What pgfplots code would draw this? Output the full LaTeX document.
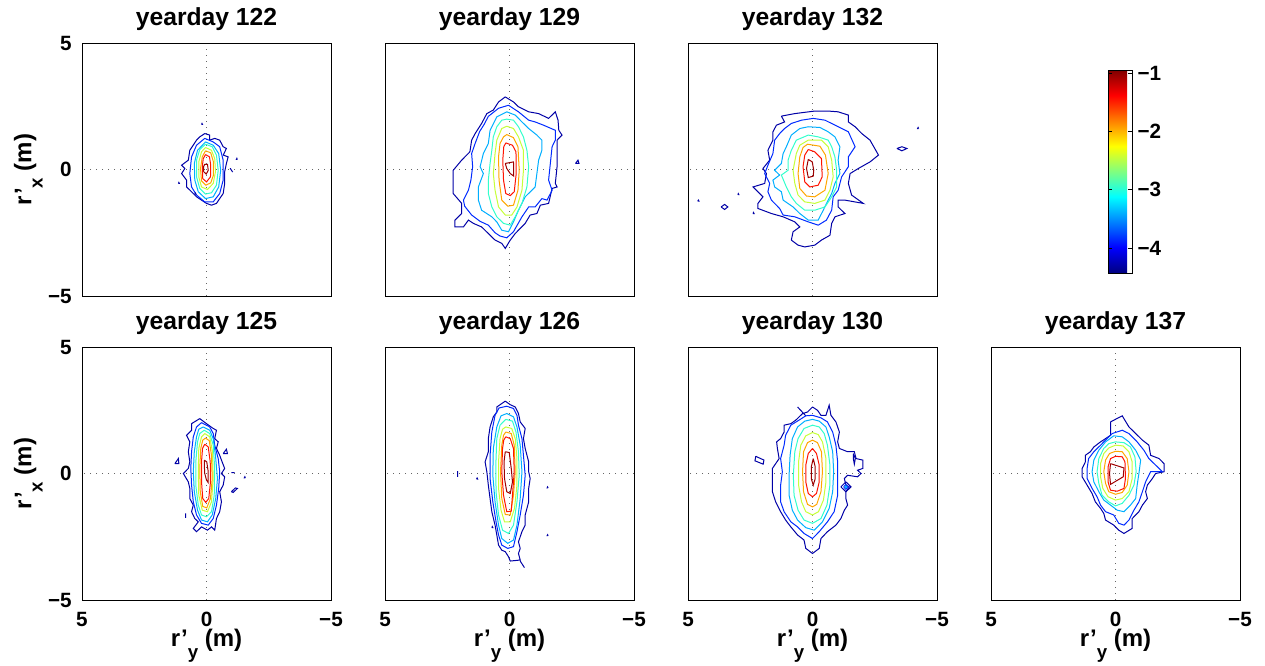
\documentclass[border=0pt]{standalone}
\usepackage{fontspec}
\setmainfont{Liberation Sans}
\usepackage{pgfplots}
\pgfplotsset{compat=1.18}

\newcommand\titlefont{\fontsize{18.5}{20}\selectfont\bfseries}
\newcommand\labelfont{\fontsize{18}{20}\selectfont\bfseries}
\newcommand\tickfont{\fontsize{15.5}{17}\selectfont\bfseries}
\newcommand\sub[1]{\raisebox{-8.5pt}{\fontsize{14}{14}\selectfont #1}}

% contour levels (log10 of the normalised density)
% L1=-4.30 L2=-3.85 L3=-3.40 L4=-2.95 L5=-2.45 L6=-1.95 L7=-1.45 L8=-1.05

\pgfplotsset{
  panel/.style={
    scale only axis, width=186.75pt, height=189.75pt,
    xmin=-5, xmax=5, ymin=-5, ymax=5, x dir=reverse,
    xtick={-5,0,5}, ytick={-5,0,5},
    xticklabels={}, yticklabels={},
    grid=major,
    major grid style={black!60, line width=0.5pt, dash pattern=on 0.6pt off 3.9pt},
    major tick length=0pt,
    axis line style={line width=0.7pt},
    colormap/jet, point meta min=-4.43, point meta max=-0.95,
    title style={font=\titlefont, at={(0.5,1)}, anchor=base, yshift=7.5pt, inner sep=0pt},
    tick label style={font=\tickfont, inner sep=0pt},
    xticklabel style={yshift=-9pt},
    yticklabel style={xshift=-7.5pt},
    xlabel style={font=\labelfont, at={(axis description cs:0.5,-0.115)}, anchor=north, inner sep=0pt},
    ylabel style={font=\labelfont, at={(axis description cs:-0.157,0.5)}, anchor=south, inner sep=0pt},
  },
  cont/.style={contour prepared={labels=false}, line width=0.75pt},
}

\begin{document}
\begin{tikzpicture}
\path[use as bounding box] (0,0) rectangle (948.75pt,-498.75pt);

% ---------------- yearday 122 ----------------
\begin{axis}[panel, at={(61.5pt,-32.25pt)}, anchor=north west,
  title={yearday 122}, ylabel={r’\sub{x} (m)}, yticklabels={−5,0,5}]
\addplot[cont] table[meta index=2] {
0.07 1.42 -4.3
-0.13 1.36 -4.3
-0.13 1.16 -4.3
-0.33 1.23 -4.3
-0.53 1.16 -4.3
-0.67 0.90 -4.3
-0.80 0.83 -4.3
-0.67 0.57 -4.3
-0.87 0.50 -4.3
-0.80 0.24 -4.3
-0.73 -0.09 -4.3
-0.73 -0.55 -4.3
-0.67 -0.95 -4.3
-0.53 -1.15 -4.3
-0.40 -1.34 -4.3
-0.20 -1.41 -4.3
0.00 -1.34 -4.3
0.20 -1.21 -4.3
0.40 -1.08 -4.3
0.60 -0.88 -4.3
0.80 -0.69 -4.3
0.80 -0.42 -4.3
1.00 -0.16 -4.3
0.87 0.04 -4.3
1.00 0.17 -4.3
0.73 0.37 -4.3
0.67 0.76 -4.3
0.40 1.16 -4.3
0.27 1.29 -4.3
0.07 1.42 -4.3

0.07 1.23 -3.85
-0.27 1.09 -3.85
-0.53 0.90 -3.85
-0.67 0.37 -3.85
-0.67 -0.42 -3.85
-0.53 -0.95 -3.85
-0.27 -1.28 -3.85
0.07 -1.28 -3.85
0.40 -1.01 -3.85
0.60 -0.69 -3.85
0.67 -0.16 -3.85
0.60 0.50 -3.85
0.40 0.96 -3.85
0.07 1.23 -3.85

0.04 1.09 -3.4
-0.27 0.96 -3.4
-0.49 0.63 -3.4
-0.57 -0.03 -3.4
-0.49 -0.69 -3.4
-0.27 -1.08 -3.4
0.04 -1.15 -3.4
0.33 -0.88 -3.4
0.47 -0.42 -3.4
0.49 0.24 -3.4
0.36 0.76 -3.4
0.04 1.09 -3.4

0.04 1.00 -2.95
-0.23 0.90 -2.95
-0.40 0.57 -2.95
-0.47 -0.03 -2.95
-0.40 -0.62 -2.95
-0.20 -0.92 -2.95
0.04 -0.97 -2.95
0.27 -0.75 -2.95
0.40 -0.29 -2.95
0.40 0.37 -2.95
0.27 0.79 -2.95
0.04 1.00 -2.95

0.04 0.87 -2.45
-0.20 0.76 -2.45
-0.33 0.43 -2.45
-0.36 -0.09 -2.45
-0.27 -0.55 -2.45
-0.04 -0.79 -2.45
0.20 -0.69 -2.45
0.31 -0.29 -2.45
0.31 0.30 -2.45
0.20 0.70 -2.45
0.04 0.87 -2.45

0.04 0.74 -1.95
-0.17 0.66 -1.95
-0.28 0.30 -1.95
-0.28 -0.22 -1.95
-0.17 -0.53 -1.95
0.03 -0.62 -1.95
0.20 -0.45 -1.95
0.24 0.04 -1.95
0.17 0.50 -1.95
0.04 0.74 -1.95

0.04 0.59 -1.45
-0.12 0.50 -1.45
-0.17 0.17 -1.45
-0.16 -0.29 -1.45
0.00 -0.49 -1.45
0.15 -0.36 -1.45
0.17 0.11 -1.45
0.13 0.43 -1.45
0.04 0.59 -1.45

0.07 0.21 -1.05
-0.04 0.20 -1.05
-0.07 -0.03 -1.05
0.01 -0.18 -1.05
0.11 -0.09 -1.05
0.12 0.11 -1.05
0.07 0.21 -1.05

0.20 1.78 -4.3
0.16 1.78 -4.3
0.18 1.82 -4.3
0.20 1.78 -4.3

-1.24 0.40 -4.3
-1.20 0.40 -4.3
-1.22 0.44 -4.3
-1.24 0.40 -4.3

-0.95 0.05 -4.3
-1.05 -0.10 -4.3

1.13 -0.55 -4.3
1.09 -0.55 -4.3
1.11 -0.51 -4.3
1.13 -0.55 -4.3

0.47 -0.97 -4.3
0.43 -0.97 -4.3
0.45 -0.93 -4.3
0.47 -0.97 -4.3
};
\end{axis}

% ---------------- yearday 129 ----------------
\begin{axis}[panel, at={(288.75pt,-32.25pt)}, anchor=north west,
  title={yearday 129}]
\addplot[cont] table[meta index=2] {
0.17 2.87 -4.3
-0.16 2.67 -4.3
-0.36 2.48 -4.3
-0.77 2.28 -4.3
-1.17 2.21 -4.3
-1.57 2.02 -4.3
-1.84 2.28 -4.3
-1.95 1.95 -4.3
-1.98 1.55 -4.3
-2.11 1.36 -4.3
-1.91 1.16 -4.3
-1.91 0.76 -4.3
-1.91 0.11 -4.3
-1.84 -0.55 -4.3
-1.91 -0.69 -4.3
-1.71 -0.75 -4.3
-1.57 -1.34 -4.3
-1.24 -1.41 -4.3
-1.10 -1.74 -4.3
-0.83 -1.80 -4.3
-0.63 -2.13 -4.3
-0.23 -2.53 -4.3
-0.03 -2.79 -4.3
0.17 -3.12 -4.3
0.31 -2.92 -4.3
0.58 -2.79 -4.3
0.85 -2.53 -4.3
1.12 -2.27 -4.3
1.45 -2.13 -4.3
1.65 -2.00 -4.3
1.85 -2.27 -4.3
2.19 -2.27 -4.3
2.19 -2.00 -4.3
1.92 -1.74 -4.3
1.92 -1.34 -4.3
2.26 -0.95 -4.3
2.26 -0.42 -4.3
2.26 -0.03 -4.3
1.92 0.37 -4.3
1.59 0.70 -4.3
1.52 1.16 -4.3
1.38 1.42 -4.3
1.12 1.82 -4.3
0.91 2.21 -4.3
0.65 2.35 -4.3
0.44 2.67 -4.3
0.17 2.87 -4.3

0.04 2.54 -3.85
-0.36 2.28 -3.85
-0.77 1.95 -3.85
-1.03 1.88 -3.85
-1.37 1.75 -3.85
-1.84 1.55 -3.85
-1.84 1.16 -3.85
-1.71 0.90 -3.85
-1.64 0.24 -3.85
-1.57 -0.42 -3.85
-1.71 -0.82 -3.85
-1.51 -1.21 -3.85
-1.30 -1.15 -3.85
-1.03 -1.48 -3.85
-0.77 -1.48 -3.85
-0.50 -1.87 -3.85
-0.16 -2.46 -3.85
0.11 -2.70 -3.85
0.38 -2.63 -3.85
0.58 -2.50 -3.85
0.85 -2.20 -3.85
1.18 -2.05 -3.85
1.52 -1.80 -3.85
1.80 -1.45 -3.85
1.85 -1.21 -3.85
1.65 -0.82 -3.85
1.55 -0.42 -3.85
1.48 0.11 -3.85
1.52 0.63 -3.85
1.38 1.03 -3.85
1.20 1.50 -3.85
1.02 1.78 -3.85
0.85 2.10 -3.85
0.44 2.42 -3.85
0.04 2.54 -3.85

0.11 2.28 -3.4
-0.23 2.15 -3.4
-0.50 1.88 -3.4
-0.77 1.62 -3.4
-1.10 1.36 -3.4
-1.30 1.16 -3.4
-1.30 0.76 -3.4
-1.17 0.37 -3.4
-1.10 -0.16 -3.4
-1.03 -0.69 -3.4
-0.63 -1.08 -3.4
-0.36 -1.61 -3.4
-0.16 -2.07 -3.4
0.04 -2.46 -3.4
0.31 -2.40 -3.4
0.51 -2.07 -3.4
0.71 -1.87 -3.4
1.12 -1.61 -3.4
1.25 -1.21 -3.4
1.25 -0.69 -3.4
1.05 -0.16 -3.4
1.18 0.11 -3.4
1.05 0.63 -3.4
0.85 1.03 -3.4
0.78 1.55 -3.4
0.51 2.08 -3.4
0.11 2.28 -3.4

0.11 1.99 -2.95
-0.16 1.95 -2.95
-0.36 1.69 -2.95
-0.56 1.29 -2.95
-0.70 0.76 -2.95
-0.77 0.11 -2.95
-0.70 -0.69 -2.95
-0.50 -1.34 -2.95
-0.23 -1.87 -2.95
-0.03 -2.20 -2.95
0.24 -2.13 -2.95
0.51 -1.87 -2.95
0.71 -1.48 -2.95
0.85 -0.95 -2.95
0.85 -0.42 -2.95
0.78 0.24 -2.95
0.71 0.76 -2.95
0.65 1.29 -2.95
0.51 1.69 -2.95
0.31 1.95 -2.95
0.11 1.99 -2.95

0.11 1.71 -2.45
-0.16 1.62 -2.45
-0.36 1.29 -2.45
-0.56 0.76 -2.45
-0.56 -0.03 -2.45
-0.50 -0.82 -2.45
-0.30 -1.48 -2.45
-0.09 -1.80 -2.45
0.17 -1.80 -2.45
0.44 -1.48 -2.45
0.58 -0.82 -2.45
0.65 -0.16 -2.45
0.58 0.63 -2.45
0.51 1.16 -2.45
0.31 1.62 -2.45
0.11 1.71 -2.45

0.11 1.38 -1.95
-0.16 1.26 -1.95
-0.34 0.90 -1.95
-0.39 -0.03 -1.95
-0.34 -0.82 -1.95
-0.16 -1.41 -1.95
0.07 -1.45 -1.95
0.31 -1.21 -1.95
0.42 -0.42 -1.95
0.44 0.50 -1.95
0.38 1.03 -1.95
0.24 1.29 -1.95
0.11 1.38 -1.95

0.15 1.05 -1.45
-0.12 0.96 -1.45
-0.26 0.70 -1.45
-0.27 -0.16 -1.45
-0.19 -0.88 -1.45
-0.03 -1.03 -1.45
0.15 -0.95 -1.45
0.24 -0.42 -1.45
0.27 0.37 -1.45
0.23 0.90 -1.45
0.15 1.05 -1.45

0.17 0.24 -1.05
-0.16 0.30 -1.05
-0.17 -0.26 -1.05
-0.03 -0.16 -1.05
0.11 0.04 -1.05
0.17 0.24 -1.05

-2.65 0.24 -4.3
-2.79 0.24 -4.3
-2.75 0.37 -4.3
-2.65 0.24 -4.3
};
\end{axis}

% ---------------- yearday 132 (with colour bar) ----------------
\begin{axis}[panel, at={(516pt,-32.25pt)}, anchor=north west,
  title={yearday 132},
  colorbar,
  colorbar style={
    at={(parent axis.north east)}, anchor=north west,
    xshift=119.75pt, yshift=-20.25pt,
    scale only axis, width=18pt, height=152.25pt,
    ytick={-4,-3,-2,-1}, yticklabels={−4,−3,−2,−1},
    yticklabel style={font=\tickfont, inner sep=0pt, xshift=4pt},
    major tick length=3pt, tick align=inside,
    tick style={black, line width=0.5pt},
    axis line style={line width=0.6pt},
  }]
\addplot[cont] table[meta index=2] {
1.25 2.11 -4.3
0.71 2.21 -4.3
-0.09 2.31 -4.3
-0.63 2.31 -4.3
-1.03 2.28 -4.3
-1.44 2.15 -4.3
-1.44 1.88 -4.3
-1.71 1.69 -4.3
-1.98 1.42 -4.3
-2.31 1.16 -4.3
-2.65 0.57 -4.3
-2.31 0.30 -4.3
-1.84 0.04 -4.3
-1.51 -0.16 -4.3
-1.44 -0.55 -4.3
-1.57 -1.01 -4.3
-2.04 -1.34 -4.3
-1.30 -1.21 -4.3
-1.03 -1.21 -4.3
-1.03 -1.48 -4.3
-1.30 -1.74 -4.3
-0.90 -1.87 -4.3
-0.77 -2.13 -4.3
-0.70 -2.60 -4.3
-0.36 -2.79 -4.3
-0.09 -2.99 -4.3
0.31 -3.06 -4.3
0.58 -2.99 -4.3
0.85 -2.79 -4.3
0.78 -2.46 -4.3
0.51 -2.27 -4.3
0.71 -2.07 -4.3
1.18 -1.87 -4.3
1.65 -1.74 -4.3
2.19 -1.54 -4.3
2.19 -1.34 -4.3
1.99 -1.08 -4.3
2.39 -0.69 -4.3
1.92 -0.55 -4.3
1.85 -0.16 -4.3
1.99 0.04 -4.3
1.72 0.37 -4.3
1.79 0.76 -4.3
1.59 1.16 -4.3
1.59 1.49 -4.3
1.45 1.75 -4.3
1.12 1.88 -4.3
1.25 2.11 -4.3

-0.03 2.02 -3.85
-0.50 1.95 -3.85
-1.03 1.69 -3.85
-1.44 1.49 -3.85
-1.71 0.90 -3.85
-1.44 0.50 -3.85
-1.44 0.11 -3.85
-1.17 -0.29 -3.85
-1.03 -0.82 -3.85
-0.83 -1.08 -3.85
-0.77 -1.61 -3.85
-0.56 -2.00 -3.85
-0.23 -2.20 -3.85
0.17 -2.07 -3.85
0.71 -1.87 -3.85
1.18 -1.80 -3.85
1.32 -1.54 -3.85
1.65 -1.21 -3.85
1.79 -0.88 -3.85
1.72 -0.55 -3.85
1.92 -0.16 -3.85
1.79 0.17 -3.85
1.59 0.63 -3.85
1.52 1.16 -3.85
1.32 1.42 -3.85
1.12 1.62 -3.85
0.85 1.82 -3.85
0.44 1.95 -3.85
-0.03 2.02 -3.85

0.17 1.69 -3.4
-0.30 1.66 -3.4
-0.63 1.49 -3.4
-0.90 1.29 -3.4
-1.10 0.90 -3.4
-1.03 0.37 -3.4
-1.10 -0.16 -3.4
-0.90 -0.55 -3.4
-0.77 -0.95 -3.4
-0.63 -1.21 -3.4
-0.43 -1.61 -3.4
-0.23 -2.00 -3.4
0.17 -2.00 -3.4
0.51 -1.74 -3.4
0.78 -1.48 -3.4
1.18 -1.21 -3.4
1.25 -0.88 -3.4
1.52 -0.69 -3.4
1.59 -0.42 -3.4
1.32 -0.22 -3.4
1.52 -0.03 -3.4
1.25 0.24 -3.4
1.18 0.63 -3.4
1.05 0.90 -3.4
0.85 1.36 -3.4
0.51 1.62 -3.4
0.17 1.69 -3.4

0.17 1.36 -2.95
-0.23 1.29 -2.95
-0.63 1.16 -2.95
-0.77 0.90 -2.95
-0.90 0.50 -2.95
-0.97 -0.03 -2.95
-0.97 -0.69 -2.95
-0.77 -1.08 -2.95
-0.50 -1.48 -2.95
-0.09 -1.61 -2.95
0.31 -1.61 -2.95
0.65 -1.34 -2.95
0.85 -1.08 -2.95
1.05 -0.69 -2.95
1.25 -0.22 -2.95
0.98 -0.03 -2.95
0.98 0.37 -2.95
0.85 0.76 -2.95
0.65 1.16 -2.95
0.17 1.36 -2.95

0.17 1.16 -2.45
-0.36 1.16 -2.45
-0.63 0.90 -2.45
-0.77 0.37 -2.45
-0.83 -0.29 -2.45
-0.70 -0.82 -2.45
-0.50 -1.21 -2.45
-0.09 -1.34 -2.45
0.31 -1.28 -2.45
0.58 -1.01 -2.45
0.71 -0.55 -2.45
0.78 -0.03 -2.45
0.65 0.63 -2.45
0.51 0.96 -2.45
0.17 1.16 -2.45

0.20 1.00 -1.95
-0.30 0.92 -1.95
-0.52 0.57 -1.95
-0.63 -0.16 -1.95
-0.50 -0.82 -1.95
-0.09 -1.08 -1.95
0.24 -1.05 -1.95
0.51 -0.75 -1.95
0.58 -0.16 -1.95
0.51 0.50 -1.95
0.38 0.87 -1.95
0.20 1.00 -1.95

0.17 0.79 -1.45
-0.09 0.70 -1.45
-0.36 0.43 -1.45
-0.39 -0.29 -1.45
-0.23 -0.62 -1.45
0.11 -0.69 -1.45
0.31 -0.49 -1.45
0.38 0.11 -1.45
0.31 0.57 -1.45
0.17 0.79 -1.45

0.17 0.40 -1.05
0.01 0.30 -1.05
-0.05 -0.03 -1.05
-0.03 -0.26 -1.05
0.17 -0.32 -1.05
0.24 0.04 -1.05
0.17 0.40 -1.05

3.67 -1.48 -4.3
3.53 -1.38 -4.3
3.40 -1.48 -4.3
3.53 -1.58 -4.3
3.67 -1.48 -4.3

4.61 -1.25 -4.3
4.56 -1.25 -4.3
4.58 -1.21 -4.3
4.61 -1.25 -4.3

3.00 -0.99 -4.3
2.96 -0.99 -4.3
2.98 -0.95 -4.3
3.00 -0.99 -4.3

2.39 -1.74 -4.3
2.35 -1.74 -4.3
2.37 -1.70 -4.3
2.39 -1.74 -4.3

-4.26 1.62 -4.3
-4.22 1.62 -4.3
-4.24 1.66 -4.3
-4.26 1.62 -4.3

-3.39 0.83 -4.3
-3.59 0.90 -4.3
-3.79 0.83 -4.3
-3.59 0.74 -4.3
-3.39 0.83 -4.3
};
\end{axis}

% ---------------- yearday 125 ----------------
\begin{axis}[panel, at={(61.5pt,-260.25pt)}, anchor=north west,
  title={yearday 125}, ylabel={r’\sub{x} (m)}, xlabel={r’\sub{y} (m)},
  yticklabels={−5,0,5}, xticklabels={−5,0,5}]
\addplot[cont] table[meta index=2] {
0.27 2.17 -4.3
0.00 1.97 -4.3
-0.27 1.78 -4.3
-0.40 1.71 -4.3
-0.33 1.38 -4.3
-0.47 1.25 -4.3
-0.40 0.99 -4.3
-0.53 0.72 -4.3
-0.60 0.53 -4.3
-0.73 0.20 -4.3
-0.60 0.00 -4.3
-0.73 -0.13 -4.3
-0.67 -0.46 -4.3
-0.53 -0.72 -4.3
-0.60 -1.12 -4.3
-0.53 -1.51 -4.3
-0.40 -1.78 -4.3
-0.33 -2.24 -4.3
-0.20 -2.11 -4.3
-0.04 -2.24 -4.3
0.20 -2.11 -4.3
0.40 -2.30 -4.3
0.53 -2.17 -4.3
0.33 -1.91 -4.3
0.47 -1.78 -4.3
0.60 -1.51 -4.3
0.53 -1.25 -4.3
0.67 -0.99 -4.3
0.67 -0.59 -4.3
0.73 -0.33 -4.3
0.93 0.00 -4.3
0.73 0.20 -4.3
0.67 0.46 -4.3
0.73 0.86 -4.3
0.67 1.25 -4.3
0.80 1.51 -4.3
0.60 1.71 -4.3
0.60 1.97 -4.3
0.27 2.17 -4.3

0.20 2.01 -3.85
-0.13 1.84 -3.85
-0.27 1.58 -3.85
-0.33 1.12 -3.85
-0.47 0.59 -3.85
-0.53 0.07 -3.85
-0.49 -0.59 -3.85
-0.40 -1.25 -3.85
-0.27 -1.78 -3.85
-0.07 -2.04 -3.85
0.20 -1.97 -3.85
0.40 -1.64 -3.85
0.53 -1.12 -3.85
0.60 -0.46 -3.85
0.63 0.20 -3.85
0.60 0.86 -3.85
0.53 1.45 -3.85
0.40 1.84 -3.85
0.20 2.01 -3.85

0.13 1.84 -3.4
-0.13 1.71 -3.4
-0.27 1.38 -3.4
-0.36 0.72 -3.4
-0.44 -0.20 -3.4
-0.37 -0.99 -3.4
-0.23 -1.64 -3.4
-0.04 -1.91 -3.4
0.20 -1.84 -3.4
0.36 -1.45 -3.4
0.49 -0.72 -3.4
0.53 0.07 -3.4
0.49 0.86 -3.4
0.40 1.45 -3.4
0.31 1.75 -3.4
0.13 1.84 -3.4

0.09 1.71 -2.95
-0.13 1.58 -2.95
-0.27 1.12 -2.95
-0.33 0.20 -2.95
-0.31 -0.86 -2.95
-0.20 -1.51 -2.95
0.00 -1.71 -2.95
0.20 -1.64 -2.95
0.33 -1.25 -2.95
0.43 -0.46 -2.95
0.43 0.46 -2.95
0.36 1.25 -2.95
0.27 1.58 -2.95
0.09 1.71 -2.95

0.07 1.58 -2.45
-0.13 1.45 -2.45
-0.24 0.86 -2.45
-0.27 -0.20 -2.45
-0.20 -1.12 -2.45
-0.04 -1.51 -2.45
0.17 -1.45 -2.45
0.31 -0.86 -2.45
0.33 0.07 -2.45
0.31 0.99 -2.45
0.20 1.45 -2.45
0.07 1.58 -2.45

0.04 1.40 -1.95
-0.11 1.30 -1.95
-0.20 0.72 -1.95
-0.23 -0.20 -1.95
-0.16 -0.99 -1.95
-0.01 -1.36 -1.95
0.15 -1.30 -1.95
0.25 -0.72 -1.95
0.27 0.20 -1.95
0.23 0.99 -1.95
0.15 1.32 -1.95
0.04 1.40 -1.95

0.07 1.16 -1.45
-0.07 1.05 -1.45
-0.15 0.46 -1.45
-0.16 -0.33 -1.45
-0.09 -0.99 -1.45
0.03 -1.14 -1.45
0.15 -0.99 -1.45
0.20 -0.33 -1.45
0.20 0.46 -1.45
0.16 0.99 -1.45
0.07 1.16 -1.45

0.09 0.53 -1.05
-0.01 0.46 -1.05
-0.07 0.07 -1.05
-0.07 -0.36 -1.05
0.00 -0.26 -1.05
0.07 0.00 -1.05
0.09 0.33 -1.05
0.09 0.53 -1.05

1.27 0.39 -4.3
1.13 0.59 -4.3
1.11 0.39 -4.3
1.27 0.39 -4.3

-0.67 0.79 -4.3
-0.80 0.96 -4.3
-0.84 0.79 -4.3
-0.67 0.79 -4.3

-1.00 0.03 -4.3
-1.13 0.03 -4.3

-1.00 -0.72 -4.3
-1.16 -0.57 -4.3
-1.24 -0.59 -4.3
-1.07 -0.75 -4.3
-1.00 -0.72 -4.3

0.84 -1.58 -4.3
0.84 -1.75 -4.3

-1.56 -0.17 -4.3
-1.52 -0.17 -4.3
-1.54 -0.13 -4.3
-1.56 -0.17 -4.3
};
\end{axis}

% ---------------- yearday 126 ----------------
\begin{axis}[panel, at={(288.75pt,-260.25pt)}, anchor=north west,
  title={yearday 126}, xlabel={r’\sub{y} (m)}, xticklabels={−5,0,5}]
\addplot[cont] table[meta index=2] {
0.17 2.86 -4.3
-0.03 2.72 -4.3
-0.23 2.63 -4.3
-0.36 2.37 -4.3
-0.43 2.04 -4.3
-0.63 1.78 -4.3
-0.56 1.38 -4.3
-0.63 0.99 -4.3
-0.77 0.46 -4.3
-0.77 0.07 -4.3
-0.83 -0.20 -4.3
-0.77 -0.59 -4.3
-0.77 -1.12 -4.3
-0.63 -1.64 -4.3
-0.63 -2.04 -4.3
-0.50 -2.30 -4.3
-0.36 -2.70 -4.3
-0.43 -2.96 -4.3
-0.36 -3.16 -4.3
-0.43 -3.42 -4.3
-0.03 -3.46 -4.3
0.04 -3.29 -4.3
0.17 -3.09 -4.3
0.31 -3.03 -4.3
0.44 -2.83 -4.3
0.51 -2.43 -4.3
0.58 -2.04 -4.3
0.71 -1.51 -4.3
0.78 -0.99 -4.3
0.85 -0.46 -4.3
0.91 0.07 -4.3
0.98 0.46 -4.3
0.85 0.86 -4.3
0.85 1.38 -4.3
0.78 1.84 -4.3
0.65 2.24 -4.3
0.51 2.43 -4.3
0.51 2.63 -4.3
0.17 2.86 -4.3

-0.43 -3.46 -4.3
-0.60 -3.72 -4.3

0.11 2.66 -3.85
-0.16 2.57 -3.85
-0.30 2.30 -3.85
-0.36 1.91 -3.85
-0.50 1.38 -3.85
-0.56 0.72 -3.85
-0.63 -0.07 -3.85
-0.56 -0.86 -3.85
-0.43 -1.64 -3.85
-0.30 -2.30 -3.85
-0.16 -2.89 -3.85
0.07 -2.96 -3.85
0.31 -2.83 -3.85
0.44 -2.43 -3.85
0.54 -1.91 -3.85
0.67 -1.12 -3.85
0.78 -0.20 -3.85
0.78 0.72 -3.85
0.71 1.64 -3.85
0.58 2.30 -3.85
0.42 2.59 -3.85
0.11 2.66 -3.85

0.11 2.37 -3.4
-0.16 2.24 -3.4
-0.30 1.84 -3.4
-0.43 1.12 -3.4
-0.50 0.07 -3.4
-0.43 -0.99 -3.4
-0.30 -2.04 -3.4
-0.16 -2.63 -3.4
0.07 -2.76 -3.4
0.31 -2.57 -3.4
0.44 -2.04 -3.4
0.58 -1.12 -3.4
0.67 -0.07 -3.4
0.65 0.99 -3.4
0.51 1.84 -3.4
0.34 2.28 -3.4
0.11 2.37 -3.4

0.15 2.14 -2.95
-0.12 2.07 -2.95
-0.26 1.64 -2.95
-0.36 0.86 -2.95
-0.39 -0.07 -2.95
-0.30 -1.12 -2.95
-0.16 -2.04 -2.95
0.04 -2.37 -2.95
0.28 -2.24 -2.95
0.44 -1.64 -2.95
0.54 -0.72 -2.95
0.55 0.33 -2.95
0.51 1.38 -2.95
0.38 1.91 -2.95
0.15 2.14 -2.95

0.15 1.84 -2.45
-0.09 1.78 -2.45
-0.23 1.38 -2.45
-0.30 0.59 -2.45
-0.30 -0.46 -2.45
-0.20 -1.38 -2.45
-0.03 -1.91 -2.45
0.20 -1.91 -2.45
0.34 -1.45 -2.45
0.44 -0.59 -2.45
0.44 0.46 -2.45
0.38 1.38 -2.45
0.28 1.75 -2.45
0.15 1.84 -2.45

0.15 1.64 -1.95
-0.07 1.58 -1.95
-0.19 1.12 -1.95
-0.23 0.07 -1.95
-0.16 -0.86 -1.95
-0.03 -1.64 -1.95
0.17 -1.62 -1.95
0.31 -0.99 -1.95
0.36 0.07 -1.95
0.31 1.12 -1.95
0.24 1.51 -1.95
0.15 1.64 -1.95

0.15 1.45 -1.45
-0.03 1.38 -1.45
-0.16 0.99 -1.45
-0.19 0.07 -1.45
-0.13 -0.72 -1.45
-0.07 -1.49 -1.45
0.11 -1.51 -1.45
0.24 -0.86 -1.45
0.31 0.07 -1.45
0.28 0.99 -1.45
0.23 1.32 -1.45
0.15 1.45 -1.45

0.17 0.86 -1.05
0.01 0.83 -1.05
-0.07 0.20 -1.05
-0.12 -0.33 -1.05
-0.03 -0.79 -1.05
0.11 -0.72 -1.05
0.20 -0.20 -1.05
0.22 0.46 -1.05
0.17 0.86 -1.05

2.08 0.09 -4.3
2.08 -0.13 -4.3

1.32 -0.22 -4.3
1.28 -0.22 -4.3
1.30 -0.18 -4.3
1.32 -0.22 -4.3

0.71 -2.14 -4.3
0.67 -2.14 -4.3
0.69 -2.10 -4.3
0.71 -2.14 -4.3

-1.55 -0.57 -4.3
-1.51 -0.57 -4.3
-1.53 -0.53 -4.3
-1.55 -0.57 -4.3

-1.55 -2.46 -4.3
-1.51 -2.46 -4.3
-1.53 -2.42 -4.3
-1.55 -2.46 -4.3
};
\end{axis}

% ---------------- yearday 130 ----------------
\begin{axis}[panel, at={(516pt,-260.25pt)}, anchor=north west,
  title={yearday 130}, xlabel={r’\sub{y} (m)}, xticklabels={−5,0,5}]
\addplot[cont] table[meta index=2] {
0.00 2.63 -4.3
-0.20 2.50 -4.3
-0.34 2.30 -4.3
-0.54 2.30 -4.3
-0.67 2.70 -4.3
-0.74 2.30 -4.3
-0.94 2.04 -4.3
-1.08 1.64 -4.3
-1.01 1.25 -4.3
-1.08 0.99 -4.3
-1.41 0.86 -4.3
-1.68 0.86 -4.3
-1.75 0.59 -4.3
-2.02 0.53 -4.3
-2.02 0.20 -4.3
-1.81 0.13 -4.3
-1.95 0.00 -4.3
-1.81 -0.13 -4.3
-1.41 -0.07 -4.3
-1.28 -0.20 -4.3
-1.34 -0.46 -4.3
-1.48 -0.53 -4.3
-1.34 -0.72 -4.3
-1.34 -0.99 -4.3
-1.41 -1.25 -4.3
-1.28 -1.45 -4.3
-1.14 -1.78 -4.3
-0.94 -2.04 -4.3
-0.60 -2.30 -4.3
-0.34 -2.57 -4.3
-0.27 -2.96 -4.3
0.00 -3.16 -4.3
0.27 -2.96 -4.3
0.34 -2.63 -4.3
0.60 -2.43 -4.3
0.87 -2.11 -4.3
1.08 -1.84 -4.3
1.28 -1.51 -4.3
1.48 -1.12 -4.3
1.61 -0.72 -4.3
1.61 -0.20 -4.3
1.61 0.20 -4.3
1.34 0.59 -4.3
1.41 0.99 -4.3
1.44 1.25 -4.3
1.28 1.38 -4.3
1.14 1.64 -4.3
1.14 1.91 -4.3
0.87 1.97 -4.3
0.67 2.11 -4.3
0.40 2.37 -4.3
0.20 2.43 -4.3
0.00 2.63 -4.3

0.60 2.63 -4.3
0.27 2.28 -4.3

0.00 2.30 -3.85
-0.34 2.20 -3.85
-0.60 2.04 -3.85
-0.81 1.64 -3.85
-0.94 1.12 -3.85
-1.01 0.46 -3.85
-1.01 -0.20 -3.85
-1.01 -0.86 -3.85
-0.87 -1.51 -3.85
-0.60 -1.91 -3.85
-0.27 -2.30 -3.85
0.00 -2.57 -3.85
0.34 -2.37 -3.85
0.60 -2.11 -3.85
0.87 -1.91 -3.85
1.14 -1.51 -3.85
1.28 -1.12 -3.85
1.28 -0.46 -3.85
1.21 0.07 -3.85
1.28 0.59 -3.85
1.14 1.12 -3.85
1.08 1.51 -3.85
0.87 1.91 -3.85
0.54 2.11 -3.85
0.27 2.28 -3.85
0.00 2.30 -3.85

0.00 2.14 -3.4
-0.27 2.07 -3.4
-0.54 1.84 -3.4
-0.67 1.45 -3.4
-0.81 0.86 -3.4
-0.85 0.07 -3.4
-0.81 -0.72 -3.4
-0.67 -1.38 -3.4
-0.40 -1.91 -3.4
-0.07 -2.24 -3.4
0.27 -2.14 -3.4
0.60 -1.84 -3.4
0.81 -1.45 -3.4
0.94 -0.86 -3.4
0.94 -0.07 -3.4
0.90 0.72 -3.4
0.81 1.38 -3.4
0.60 1.84 -3.4
0.31 2.07 -3.4
0.00 2.14 -3.4

0.00 1.91 -2.95
-0.27 1.84 -2.95
-0.47 1.58 -2.95
-0.60 1.12 -2.95
-0.70 0.33 -2.95
-0.70 -0.46 -2.95
-0.58 -1.25 -2.95
-0.34 -1.78 -2.95
0.00 -1.97 -2.95
0.34 -1.84 -2.95
0.58 -1.45 -2.95
0.74 -0.86 -2.95
0.77 -0.07 -2.95
0.71 0.86 -2.95
0.58 1.38 -2.95
0.34 1.78 -2.95
0.00 1.91 -2.95

0.00 1.62 -2.45
-0.23 1.54 -2.45
-0.40 1.25 -2.45
-0.54 0.59 -2.45
-0.54 -0.33 -2.45
-0.44 -1.05 -2.45
-0.24 -1.51 -2.45
0.00 -1.64 -2.45
0.27 -1.51 -2.45
0.44 -1.12 -2.45
0.56 -0.46 -2.45
0.56 0.46 -2.45
0.47 1.12 -2.45
0.27 1.49 -2.45
0.00 1.62 -2.45

0.00 1.32 -1.95
-0.20 1.22 -1.95
-0.36 0.86 -1.95
-0.40 0.07 -1.95
-0.34 -0.72 -1.95
-0.17 -1.22 -1.95
0.00 -1.32 -1.95
0.20 -1.22 -1.95
0.36 -0.72 -1.95
0.40 0.07 -1.95
0.36 0.86 -1.95
0.20 1.22 -1.95
0.00 1.32 -1.95

0.00 0.99 -1.45
-0.16 0.79 -1.45
-0.27 0.33 -1.45
-0.27 -0.33 -1.45
-0.16 -0.79 -1.45
0.00 -0.92 -1.45
0.17 -0.79 -1.45
0.27 -0.33 -1.45
0.27 0.33 -1.45
0.17 0.79 -1.45
0.00 0.99 -1.45

-0.03 0.59 -1.05
-0.11 0.26 -1.05
-0.11 -0.20 -1.05
-0.03 -0.46 -1.05
0.05 -0.20 -1.05
0.05 0.26 -1.05
-0.03 0.59 -1.05

2.28 0.68 -4.3
1.95 0.53 -4.3
1.98 0.37 -4.3
2.31 0.50 -4.3
2.28 0.68 -4.3

-1.14 -0.53 -4.3
-1.34 -0.33 -4.3
-1.55 -0.53 -4.3
-1.34 -0.72 -4.3
-1.14 -0.53 -4.3

-1.25 -0.53 -3.85
-1.34 -0.43 -3.85
-1.44 -0.53 -3.85
-1.34 -0.62 -3.85
-1.25 -0.53 -3.85

-1.30 -0.53 -3.4
-1.34 -0.49 -3.4
-1.38 -0.53 -3.4
-1.34 -0.57 -3.4
-1.30 -0.53 -3.4

-1.64 0.79 -4.3
-1.72 0.59 -4.3
-1.68 0.37 -4.3
-1.64 0.59 -4.3
-1.64 0.79 -4.3
};
\end{axis}

% ---------------- yearday 137 ----------------
\begin{axis}[panel, at={(743.25pt,-260.25pt)}, anchor=north west,
  title={yearday 137}, xlabel={r’\sub{y} (m)}, xticklabels={−5,0,5}]
\addplot[cont] table[meta index=2] {
0.20 2.04 -4.3
-0.27 2.28 -4.3
-0.54 1.84 -4.3
-0.81 1.58 -4.3
-1.08 1.32 -4.3
-1.34 1.12 -4.3
-1.41 0.72 -4.3
-1.75 0.59 -4.3
-1.95 0.39 -4.3
-1.95 0.07 -4.3
-1.61 0.00 -4.3
-1.48 -0.20 -4.3
-1.28 -0.46 -4.3
-1.21 -0.72 -4.3
-1.28 -0.99 -4.3
-1.08 -1.25 -4.3
-0.94 -1.51 -4.3
-0.67 -1.78 -4.3
-0.67 -2.17 -4.3
-0.34 -2.37 -4.3
-0.13 -2.24 -4.3
0.07 -2.04 -4.3
0.40 -1.84 -4.3
0.47 -1.58 -4.3
0.60 -1.38 -4.3
0.81 -1.12 -4.3
0.94 -0.79 -4.3
1.14 -0.46 -4.3
1.34 -0.13 -4.3
1.34 0.20 -4.3
1.21 0.46 -4.3
1.21 0.72 -4.3
1.01 0.86 -4.3
0.87 1.05 -4.3
0.60 1.25 -4.3
0.40 1.38 -4.3
0.20 1.51 -4.3
0.20 2.04 -4.3

0.13 1.58 -3.85
-0.27 1.71 -3.85
-0.54 1.58 -3.85
-0.87 1.25 -3.85
-1.14 0.92 -3.85
-1.34 0.59 -3.85
-1.75 0.20 -3.85
-1.88 0.07 -3.85
-1.41 0.07 -3.85
-1.21 -0.33 -3.85
-1.08 -0.72 -3.85
-0.94 -1.12 -3.85
-0.74 -1.45 -3.85
-0.54 -1.84 -3.85
-0.34 -2.04 -3.85
-0.13 -1.97 -3.85
0.07 -1.64 -3.85
0.40 -1.51 -3.85
0.60 -1.25 -3.85
0.74 -0.92 -3.85
0.94 -0.59 -3.85
1.14 -0.20 -3.85
1.14 0.20 -3.85
1.08 0.59 -3.85
0.87 0.86 -3.85
0.60 1.12 -3.85
0.40 1.32 -3.85
0.13 1.58 -3.85

0.07 1.49 -3.4
-0.27 1.45 -3.4
-0.54 1.25 -3.4
-0.81 0.92 -3.4
-1.01 0.53 -3.4
-0.94 0.00 -3.4
-0.87 -0.46 -3.4
-0.81 -0.99 -3.4
-0.60 -1.25 -3.4
-0.34 -1.51 -3.4
-0.07 -1.45 -3.4
0.20 -1.25 -3.4
0.47 -1.05 -3.4
0.67 -0.72 -3.4
0.87 -0.33 -3.4
0.94 0.07 -3.4
0.87 0.53 -3.4
0.67 0.92 -3.4
0.40 1.25 -3.4
0.07 1.49 -3.4

0.00 1.25 -2.95
-0.34 1.22 -2.95
-0.60 1.05 -2.95
-0.78 0.66 -2.95
-0.83 0.07 -2.95
-0.74 -0.46 -2.95
-0.54 -0.86 -2.95
-0.27 -1.18 -2.95
0.00 -1.28 -2.95
0.27 -1.12 -2.95
0.54 -0.86 -2.95
0.67 -0.39 -2.95
0.74 0.07 -2.95
0.67 0.59 -2.95
0.47 0.99 -2.95
0.27 1.18 -2.95
0.00 1.25 -2.95

0.00 1.12 -2.45
-0.30 1.09 -2.45
-0.54 0.86 -2.45
-0.67 0.46 -2.45
-0.67 -0.20 -2.45
-0.54 -0.72 -2.45
-0.27 -0.99 -2.45
0.00 -1.05 -2.45
0.30 -0.92 -2.45
0.51 -0.59 -2.45
0.60 -0.13 -2.45
0.60 0.39 -2.45
0.47 0.79 -2.45
0.27 1.01 -2.45
0.00 1.12 -2.45

0.00 0.88 -1.95
-0.27 0.86 -1.95
-0.47 0.59 -1.95
-0.54 0.07 -1.95
-0.47 -0.46 -1.95
-0.27 -0.75 -1.95
0.00 -0.82 -1.95
0.27 -0.72 -1.95
0.40 -0.39 -1.95
0.47 0.07 -1.95
0.40 0.53 -1.95
0.24 0.79 -1.95
0.00 0.88 -1.95

0.00 0.68 -1.45
-0.27 0.66 -1.45
-0.38 0.46 -1.45
-0.40 -0.20 -1.45
-0.34 -0.59 -1.45
-0.07 -0.70 -1.45
0.20 -0.66 -1.45
0.30 -0.33 -1.45
0.30 0.26 -1.45
0.20 0.59 -1.45
0.00 0.68 -1.45

0.20 0.39 -1.05
-0.34 0.22 -1.05
-0.31 -0.13 -1.05
0.20 -0.43 -1.05
0.24 0.00 -1.05
0.20 0.39 -1.05
};
\end{axis}
\end{tikzpicture}
\end{document}
